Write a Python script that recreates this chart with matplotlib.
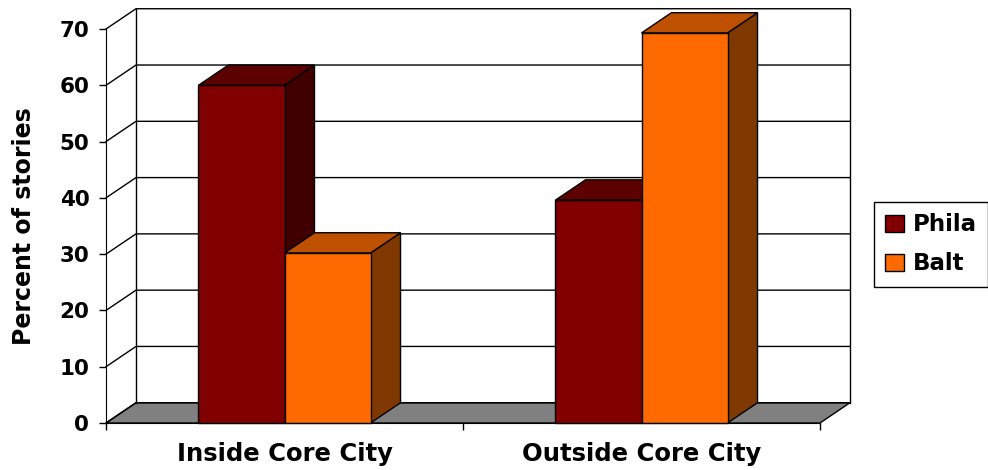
import matplotlib
matplotlib.use("Agg")
import matplotlib.pyplot as plt
from matplotlib.patches import Patch, Polygon

categories = ["Inside Core City", "Outside Core City"]
phila = [60, 39.6]
balt = [30.2, 69.3]
y_ticks = [0, 10, 20, 30, 40, 50, 60, 70]

bar_w = 0.241
depth_x = 0.084
depth_y = 3.6

phila_cols = ("#800000", "#5c0000", "#400000")
balt_cols = ("#ff6a00", "#bf5000", "#7f3800")

plt.rcParams["font.family"] = ["DejaVu Sans"]
plt.rcParams["font.weight"] = "bold"

fig = plt.figure(figsize=(9.88, 4.70), dpi=100)
ax = fig.add_axes([106 / 988, 1 - 423 / 470, (820 - 106) / 988, (423 - 29) / 470])
ax.set_xlim(-0.5, 1.5)
ax.set_ylim(0, 70)
x0, x1 = ax.get_xlim()


def poly(pts, color, z):
    ax.add_patch(Polygon(pts, closed=True, facecolor=color, edgecolor="black",
                         linewidth=1, clip_on=False, zorder=z))


# floor
poly([(x0, 0), (x1, 0), (x1 + depth_x, depth_y), (x0 + depth_x, depth_y)], "#808080", 1)

# walls and gridlines
for v in y_ticks:
    ax.plot([x0, x0 + depth_x, x1 + depth_x], [v, v + depth_y, v + depth_y],
            color="black", lw=1, clip_on=False, zorder=1.5)
ax.plot([x0 + depth_x] * 2, [depth_y, 70 + depth_y], color="black", lw=1, clip_on=False, zorder=1.5)
ax.plot([x1 + depth_x] * 2, [depth_y, 70 + depth_y], color="black", lw=1, clip_on=False, zorder=1.5)


def bar3d(left, h, cols, z):
    right = left + bar_w
    poly([(right, 0), (right + depth_x, depth_y), (right + depth_x, h + depth_y), (right, h)], cols[2], z)
    poly([(left, h), (right, h), (right + depth_x, h + depth_y), (left + depth_x, h + depth_y)], cols[1], z)
    poly([(left, 0), (right, 0), (right, h), (left, h)], cols[0], z)


for i in range(len(categories)):
    bar3d(i - bar_w, phila[i], phila_cols, 3)
    bar3d(i, balt[i], balt_cols, 4)

# axes
for s in ["top", "right"]:
    ax.spines[s].set_visible(False)
for s in ["left", "bottom"]:
    ax.spines[s].set_zorder(5)
ax.set_yticks(y_ticks)
ax.tick_params(axis="y", length=5, width=1, labelsize=15.5, pad=7)
ax.set_xticks([-0.5, 0.5, 1.5])
ax.set_xticklabels([])
ax.tick_params(axis="x", which="major", length=5, width=1)
ax.set_xticks([0, 1], minor=True)
ax.set_xticklabels(categories, minor=True, fontsize=17.5)
ax.tick_params(axis="x", which="minor", length=0, pad=14)
ax.set_ylabel("Percent of stories", fontsize=17, fontweight="bold", labelpad=17)

handles = [Patch(facecolor=phila_cols[0], edgecolor="black", label="Phila"),
           Patch(facecolor=balt_cols[0], edgecolor="black", label="Balt")]
fig.legend(handles=handles, loc="upper left", bbox_to_anchor=(874 / 988, 1 - 202 / 470),
           fontsize=16.5, frameon=True, fancybox=False, framealpha=1, edgecolor="black",
           borderaxespad=0, handlelength=0.8, handleheight=0.8, handletextpad=0.4,
           borderpad=0.5, labelspacing=0.7)

fig.savefig("out.png", dpi=100)
